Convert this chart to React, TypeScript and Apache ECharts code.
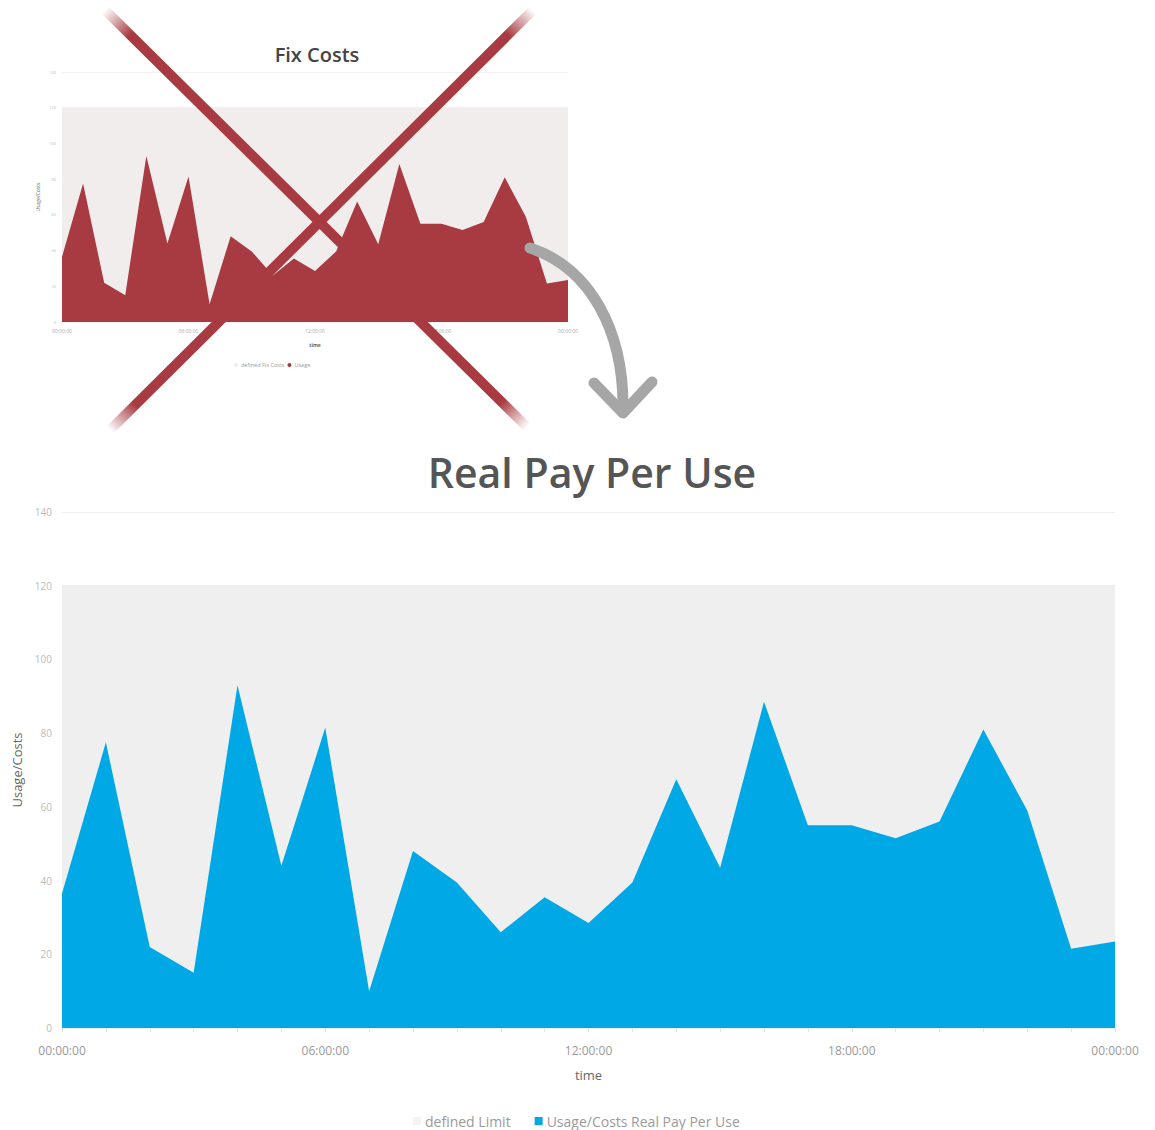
import React, { useEffect, useRef } from "react";
import * as echarts from "echarts";

const hours = [0, 1, 2, 3, 4, 5, 6, 7, 8, 9, 10, 11, 12, 13, 14, 15, 16, 17, 18, 19, 20, 21, 22, 23, 24];
const usage = [36.5, 77.5, 22, 15, 93, 44, 81.5, 10, 48, 39.5, 26, 35.5, 28.5, 39.5, 67.5, 43.5, 88.5, 55, 55, 51.5, 56, 81, 59, 21.5, 23.5];
const limitHours = [0, 24];
const limitValues = [120, 120];
const yTicks = [0, 20, 40, 60, 80, 100, 120, 140];
const topTitle = "Fix Costs";
const mainTitle = "Real Pay Per Use";
const topLegend = ["defined Fix Costs", "Usage"];
const mainLegend = ["defined Limit", "Usage/Costs Real Pay Per Use"];

const FONT = "Open Sans";
const BLUE = "#00a9e6";
const RED = "#a83a41";

const fmtTime = (v: number) => {
  const h = Math.round(v) % 24;
  return (h < 10 ? "0" + h : "" + h) + ":00:00";
};

export default function App() {
  const ref = useRef<HTMLDivElement>(null);
  useEffect(() => {
    if (!ref.current) return;
    const chart = echarts.init(ref.current, undefined, { renderer: "svg" });
    const usagePts = hours.map((h, i) => [h, usage[i]]);
    const limitPts = limitHours.map((h, i) => [h, limitValues[i]]);
    const redGrad = (dir: number) => ({
      type: "linear",
      x: dir > 0 ? 0 : 1,
      y: 0,
      x2: dir > 0 ? 1 : 0,
      y2: 1,
      colorStops: [
        { offset: 0, color: "rgba(168,58,65,0)" },
        { offset: 0.06, color: "rgba(168,58,65,1)" },
        { offset: 0.94, color: "rgba(168,58,65,1)" },
        { offset: 1, color: "rgba(168,58,65,0)" },
      ],
    });
    chart.setOption({
      animation: false,
      backgroundColor: "#ffffff",
      textStyle: { fontFamily: FONT },
      grid: [
        { left: 62, top: 72, width: 506, height: 250 },
        { left: 62, top: 512, width: 1053, height: 516 },
      ],
      xAxis: [
        {
          gridIndex: 0, type: "value", min: 0, max: 24, interval: 6,
          axisLabel: { fontSize: 5, color: "#aaa", formatter: fmtTime, margin: 6 },
          name: "time", nameLocation: "middle", nameGap: 20,
          nameTextStyle: { fontSize: 5, color: "#666", fontWeight: "bold" },
          axisLine: { show: false }, axisTick: { show: false }, splitLine: { show: false },
        },
        {
          gridIndex: 1, type: "value", min: 0, max: 24, interval: 6,
          axisLabel: { fontSize: 12, color: "#9a9a9a", formatter: fmtTime, margin: 16 },
          name: "time", nameLocation: "middle", nameGap: 40,
          nameTextStyle: { fontSize: 13, color: "#666" },
          axisLine: { show: false },
          axisTick: { show: true, length: 4, lineStyle: { color: "#ddd" } },
          minorTick: { show: true, splitNumber: 6, length: 4, lineStyle: { color: "#e6e6e6" } },
          splitLine: { show: false },
        },
      ],
      yAxis: [
        {
          gridIndex: 0, type: "value", min: 0, max: 140, interval: 20,
          axisLabel: { fontSize: 4, color: "#bbb", margin: 6 },
          name: "Usage/Costs", nameLocation: "middle", nameGap: 22,
          nameTextStyle: { fontSize: 5, color: "#666" },
          axisLine: { show: false }, axisTick: { show: false },
          splitLine: { show: true, lineStyle: { color: "#f2f2f2" } },
        },
        {
          gridIndex: 1, type: "value", min: 0, max: 140, interval: 20,
          axisLabel: { fontSize: 10, color: "#bbb", margin: 10, formatter: (v: number) => (yTicks.includes(v) ? String(v) : "") },
          name: "Usage/Costs", nameLocation: "middle", nameGap: 38,
          nameTextStyle: { fontSize: 13, color: "#666" },
          axisLine: { show: false }, axisTick: { show: false },
          splitLine: { show: true, lineStyle: { color: "#eeeeee" } },
        },
      ],
      legend: [
        {
          data: [
            { name: topLegend[0], icon: "circle", itemStyle: { color: "#f1ecec" } },
            { name: topLegend[1], icon: "circle" },
          ],
          left: 234, top: 362, padding: 0, itemWidth: 4, itemHeight: 4, itemGap: 3,
          textStyle: { fontSize: 5.5, color: "#999", fontFamily: FONT, padding: [0, 0, 0, -2] },
        },
        {
          data: [
            { name: mainLegend[0], icon: "rect", itemStyle: { color: "#f4f4f4" } },
            { name: mainLegend[1], icon: "rect" },
          ],
          left: 413, top: 1114, padding: 0, itemWidth: 8, itemHeight: 8, itemGap: 24,
          textStyle: { fontSize: 14, color: "#9a9a9a", fontFamily: FONT, padding: [0, 0, 0, -1] },
        },
      ],
      series: [
        {
          name: topLegend[0], type: "line", xAxisIndex: 0, yAxisIndex: 0, data: limitPts,
          symbol: "none", lineStyle: { width: 0 }, itemStyle: { color: "#f1ecec" },
          areaStyle: { color: "#f1eded", opacity: 1 }, silent: true,
        },
        {
          name: topLegend[1], type: "line", xAxisIndex: 0, yAxisIndex: 0, data: usagePts,
          symbol: "none", lineStyle: { width: 0 }, itemStyle: { color: RED },
          areaStyle: { color: RED, opacity: 1 },
        },
        {
          name: mainLegend[0], type: "line", xAxisIndex: 1, yAxisIndex: 1, data: limitPts,
          symbol: "none", lineStyle: { width: 0 }, itemStyle: { color: "#f4f4f4" },
          areaStyle: { color: "#efefef", opacity: 1 }, silent: true,
        },
        {
          name: mainLegend[1], type: "line", xAxisIndex: 1, yAxisIndex: 1, data: usagePts,
          symbol: "none", lineStyle: { width: 0 }, itemStyle: { color: BLUE },
          areaStyle: { color: BLUE, opacity: 1 },
        },
      ],
      graphic: [
        {
          type: "text", x: 317, y: 54, z: 50,
          style: { text: topTitle, fill: "#444", font: `600 20px "${FONT}"`, align: "center", verticalAlign: "middle" },
        },
        {
          type: "text", x: 592, y: 472, z: 50,
          style: { text: mainTitle, fill: "#555", font: `600 41px "${FONT}"`, align: "center", verticalAlign: "middle" },
        },
        {
          type: "line", z: 100,
          shape: { x1: 105, y1: 10, x2: 527, y2: 427 },
          style: { stroke: redGrad(1), lineWidth: 10 },
        },
        {
          type: "line", z: 100,
          shape: { x1: 533, y1: 10, x2: 110, y2: 430 },
          style: { stroke: redGrad(-1), lineWidth: 10 },
        },
        {
          type: "bezierCurve", z: 110,
          shape: { x1: 530, y1: 248, cpx1: 590, cpy1: 268, cpx2: 624, cpy2: 330, x2: 623, y2: 410 },
          style: { stroke: "#a6a6a6", lineWidth: 11, lineCap: "round", fill: null },
        },
        {
          type: "polyline", z: 110,
          shape: { points: [[594, 383], [623, 413], [652, 382]] },
          style: { stroke: "#a6a6a6", lineWidth: 11, lineCap: "round", lineJoin: "round", fill: null },
        },
      ],
    });
    return () => chart.dispose();
  }, []);
  return <div ref={ref} style={{ position: "absolute", left: 0, top: 0, width: 1155, height: 1130 }} />;
}
